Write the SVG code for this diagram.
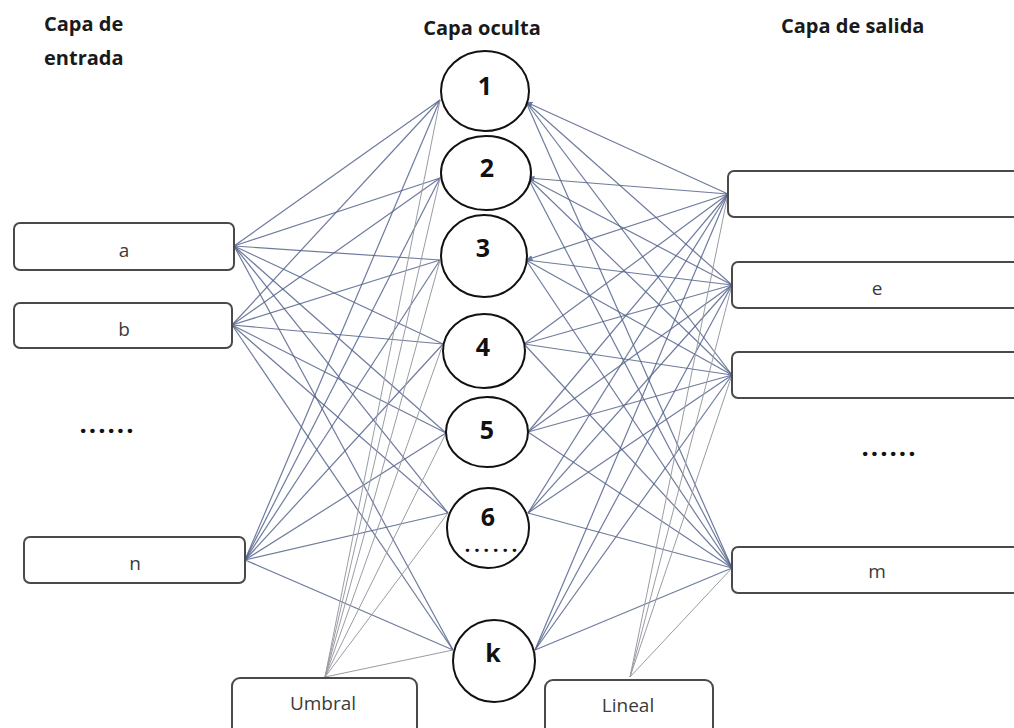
<svg xmlns="http://www.w3.org/2000/svg" width="1014" height="728" viewBox="0 0 1014 728">
  <style>
    .hdr { font-family: "Open Sans", "Liberation Sans", sans-serif; font-weight: 700; font-size: 20px; fill: #1a1a1a; }
    .num { font-family: "Open Sans", "Liberation Sans", sans-serif; font-weight: 700; font-size: 25px; fill: #111; text-anchor: middle; }
    .lbl { font-family: "Open Sans", "Liberation Sans", sans-serif; font-size: 19px; fill: #3a3a3a; text-anchor: middle; }
    .dots { font-family: "Open Sans", "Liberation Sans", sans-serif; font-weight: 800; font-size: 22px; fill: #111; }
    .dots-sm { font-family: "Open Sans", "Liberation Sans", sans-serif; font-weight: 800; font-size: 17px; fill: #111; }
    .box { fill: #fff; stroke: #4a4a4a; stroke-width: 2; }
    .neuron { fill: #fff; stroke: #111; stroke-width: 2; }
    .w { stroke: #55648c; stroke-width: 1.2; fill: none; opacity: 0.85; }
    .bias { stroke: #9a9ca4; stroke-width: 1; fill: none; }
  </style>
  <defs>
    <marker id="tip" viewBox="0 0 10 10" refX="9" refY="5" markerWidth="6" markerHeight="6" orient="auto">
      <path d="M0,1 L10,5 L0,9 z" fill="#55648c"/>
    </marker>
  </defs>

  <rect width="1014" height="728" fill="#fff"/>

  <!-- layer headings -->
  <text class="hdr" x="44" y="31">Capa de</text>
  <text class="hdr" x="44" y="65">entrada</text>
  <text class="hdr" x="482" y="35" text-anchor="middle">Capa oculta</text>
  <text class="hdr" x="781" y="33">Capa de salida</text>

  <!-- connectors -->
  <g id="connectors">
    <!-- input a -> hidden -->
    <line class="w" x1="234" y1="246" x2="440" y2="100"/>
    <line class="w" x1="234" y1="246" x2="440" y2="178"/>
    <line class="w" x1="234" y1="246" x2="440" y2="260"/>
    <line class="w" x1="234" y1="246" x2="443" y2="344"/>
    <line class="w" x1="234" y1="246" x2="446" y2="433"/>
    <line class="w" x1="234" y1="246" x2="448" y2="513"/>
    <line class="w" x1="234" y1="246" x2="453" y2="650"/>
    <!-- input b -> hidden -->
    <line class="w" x1="232" y1="325" x2="440" y2="100"/>
    <line class="w" x1="232" y1="325" x2="440" y2="178"/>
    <line class="w" x1="232" y1="325" x2="440" y2="260"/>
    <line class="w" x1="232" y1="325" x2="443" y2="344"/>
    <line class="w" x1="232" y1="325" x2="446" y2="433"/>
    <line class="w" x1="232" y1="325" x2="448" y2="513"/>
    <line class="w" x1="232" y1="325" x2="453" y2="650"/>
    <!-- input n -> hidden -->
    <line class="w" x1="245" y1="560" x2="440" y2="100"/>
    <line class="w" x1="245" y1="560" x2="440" y2="178"/>
    <line class="w" x1="245" y1="560" x2="440" y2="260"/>
    <line class="w" x1="245" y1="560" x2="443" y2="344"/>
    <line class="w" x1="245" y1="560" x2="446" y2="433"/>
    <line class="w" x1="245" y1="560" x2="448" y2="513"/>
    <line class="w" x1="245" y1="560" x2="453" y2="650"/>
    <!-- threshold -> hidden -->
    <line class="bias" x1="325" y1="677" x2="440" y2="100"/>
    <line class="bias" x1="325" y1="677" x2="440" y2="178"/>
    <line class="bias" x1="325" y1="677" x2="440" y2="260"/>
    <line class="bias" x1="325" y1="677" x2="443" y2="344"/>
    <line class="bias" x1="325" y1="677" x2="446" y2="433"/>
    <line class="bias" x1="325" y1="677" x2="448" y2="513"/>
    <line class="bias" x1="325" y1="677" x2="453" y2="650"/>
    <!-- hidden -> output 1 -->
    <line class="w" x1="728" y1="194" x2="526" y2="102" marker-end="url(#tip)"/>
    <line class="w" x1="728" y1="194" x2="528" y2="178" marker-end="url(#tip)"/>
    <line class="w" x1="728" y1="194" x2="526" y2="260" marker-end="url(#tip)"/>
    <line class="w" x1="728" y1="194" x2="524" y2="344"/>
    <line class="w" x1="728" y1="194" x2="528" y2="432"/>
    <line class="w" x1="728" y1="194" x2="528" y2="513"/>
    <line class="w" x1="728" y1="194" x2="535" y2="650"/>
    <!-- hidden -> output e -->
    <line class="w" x1="732" y1="285" x2="526" y2="102"/>
    <line class="w" x1="732" y1="285" x2="528" y2="178"/>
    <line class="w" x1="732" y1="285" x2="526" y2="260"/>
    <line class="w" x1="732" y1="285" x2="524" y2="344"/>
    <line class="w" x1="732" y1="285" x2="528" y2="432"/>
    <line class="w" x1="732" y1="285" x2="528" y2="513"/>
    <line class="w" x1="732" y1="285" x2="535" y2="650"/>
    <!-- hidden -> output 3 -->
    <line class="w" x1="732" y1="375" x2="526" y2="102"/>
    <line class="w" x1="732" y1="375" x2="528" y2="178"/>
    <line class="w" x1="732" y1="375" x2="526" y2="260"/>
    <line class="w" x1="732" y1="375" x2="524" y2="344"/>
    <line class="w" x1="732" y1="375" x2="528" y2="432"/>
    <line class="w" x1="732" y1="375" x2="528" y2="513"/>
    <line class="w" x1="732" y1="375" x2="535" y2="650"/>
    <!-- hidden -> output m -->
    <line class="w" x1="732" y1="568" x2="526" y2="102"/>
    <line class="w" x1="732" y1="568" x2="528" y2="178"/>
    <line class="w" x1="732" y1="568" x2="526" y2="260"/>
    <line class="w" x1="732" y1="568" x2="524" y2="344"/>
    <line class="w" x1="732" y1="568" x2="528" y2="432"/>
    <line class="w" x1="732" y1="568" x2="528" y2="513"/>
    <line class="w" x1="732" y1="568" x2="535" y2="650"/>
    <!-- linear activation -> output -->
    <line class="bias" x1="630" y1="677" x2="728" y2="194"/>
    <line class="bias" x1="630" y1="677" x2="732" y2="285"/>
    <line class="bias" x1="630" y1="677" x2="732" y2="375"/>
    <line class="bias" x1="630" y1="677" x2="732" y2="568"/>
  </g>

  <!-- input layer -->
  <g id="in-a">
    <rect class="box" x="14" y="223" width="220" height="47" rx="6"/>
    <text class="lbl" x="124" y="257">a</text>
  </g>
  <g id="in-b">
    <rect class="box" x="14" y="303" width="218" height="45" rx="6"/>
    <text class="lbl" x="124" y="336">b</text>
  </g>
  <g id="in-more">
    <text class="dots" x="80" y="433" textLength="53" lengthAdjust="spacing">......</text>
  </g>
  <g id="in-n">
    <rect class="box" x="24" y="537" width="221" height="46" rx="6"/>
    <text class="lbl" x="135" y="570">n</text>
  </g>

  <!-- hidden layer -->
  <g id="h1">
    <ellipse class="neuron" cx="485" cy="91" rx="44" ry="40"/>
    <text class="num" x="485" y="95">1</text>
  </g>
  <g id="h2">
    <ellipse class="neuron" cx="486" cy="173" rx="45" ry="37"/>
    <text class="num" x="487" y="177">2</text>
  </g>
  <g id="h3">
    <ellipse class="neuron" cx="484" cy="256" rx="43" ry="41"/>
    <text class="num" x="483" y="257">3</text>
  </g>
  <g id="h4">
    <ellipse class="neuron" cx="484" cy="351" rx="41" ry="37"/>
    <text class="num" x="483" y="356">4</text>
  </g>
  <g id="h5">
    <ellipse class="neuron" cx="487" cy="432" rx="41" ry="35"/>
    <text class="num" x="487" y="439">5</text>
  </g>
  <g id="h6">
    <ellipse class="neuron" cx="488" cy="528" rx="41" ry="40"/>
    <text class="num" x="488" y="526">6</text>
    <text class="dots-sm" x="465" y="552" textLength="52" lengthAdjust="spacing">......</text>
  </g>
  <g id="hk">
    <ellipse class="neuron" cx="494" cy="661" rx="41" ry="41"/>
    <text class="num" x="493" y="662">k</text>
  </g>

  <!-- output layer -->
  <g id="out-1">
    <rect class="box" x="728" y="171" width="300" height="46" rx="6"/>
  </g>
  <g id="out-e">
    <rect class="box" x="732" y="262" width="296" height="46" rx="6"/>
    <text class="lbl" x="877" y="295">e</text>
  </g>
  <g id="out-3">
    <rect class="box" x="732" y="352" width="296" height="46" rx="6"/>
  </g>
  <g id="out-more">
    <text class="dots" x="862" y="456" textLength="53" lengthAdjust="spacing">......</text>
  </g>
  <g id="out-m">
    <rect class="box" x="732" y="547" width="296" height="46" rx="6"/>
    <text class="lbl" x="877" y="578">m</text>
  </g>

  <!-- bias / activation boxes -->
  <g id="umbral">
    <rect class="box" x="232" y="678" width="185" height="70" rx="8"/>
    <text class="lbl" x="323" y="710">Umbral</text>
  </g>
  <g id="lineal">
    <rect class="box" x="545" y="680" width="168" height="70" rx="8"/>
    <text class="lbl" x="628" y="712">Lineal</text>
  </g>
</svg>
